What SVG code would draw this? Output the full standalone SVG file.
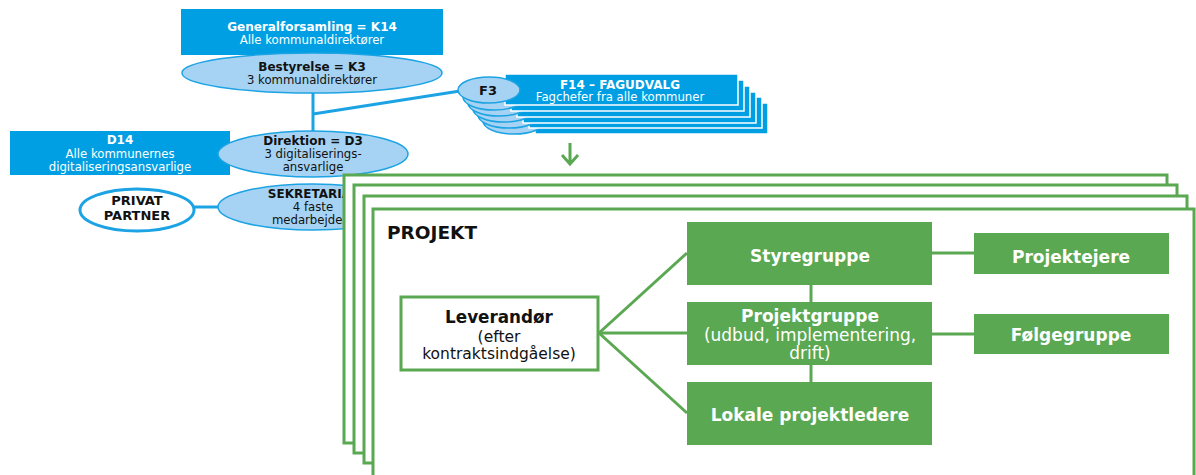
<svg xmlns="http://www.w3.org/2000/svg" width="1196" height="475" viewBox="0 0 1196 475">
<style>
text{font-family:"DejaVu Sans",Verdana,sans-serif;text-anchor:middle}
.bbox{fill:#009FE3}
.ell{fill:#A6D3F3;stroke:#1CA3E3;stroke-width:1.5}
.wb{fill:#fff;font-weight:bold;font-size:12px}
.w{fill:#fff;font-size:11.7px}
.db{fill:#111;font-weight:bold;font-size:12px}
.d{fill:#111;font-size:11.7px}
.bl{stroke:#1CA3E3;stroke-width:3;fill:none}
.frame{fill:#fff;stroke:#5BA852;stroke-width:3}
.gbox{fill:#5BA852}
.gt{fill:#fff;font-weight:bold;font-size:17px}
.gn{fill:#fff;font-size:17px}
.gl{stroke:#5BA852;stroke-width:3;fill:none}
.fb{fill:#009FE3;stroke:#fff;stroke-width:1.5}
</style>
<g id="connectors-blue">
<line class="bl" x1="313" y1="92" x2="313" y2="132"/>
<line class="bl" x1="313" y1="114" x2="460" y2="91"/>
<line class="bl" x1="193" y1="207" x2="219" y2="207"/>
</g>
<g id="generalforsamling">
<rect class="bbox" x="181" y="9" width="262" height="46"/>
<text class="wb" x="312" y="31">Generalforsamling = K14</text>
<text class="w" x="312" y="44">Alle kommunaldirektører</text>
</g>
<g id="bestyrelse">
<ellipse class="ell" cx="312" cy="73" rx="130" ry="20"/>
<text class="db" x="312" y="71">Bestyrelse = K3</text>
<text class="d" x="312" y="84">3 kommunaldirektører</text>
</g>
<g id="d14">
<rect class="bbox" x="10" y="131" width="220" height="44"/>
<text class="wb" x="120" y="144">D14</text>
<text class="w" x="120" y="158">Alle kommunernes</text>
<text class="w" x="120" y="171">digitaliseringsansvarlige</text>
</g>
<g id="direktion">
<ellipse class="ell" cx="313" cy="154" rx="95" ry="23"/>
<text class="db" x="313" y="145">Direktion = D3</text>
<text class="d" x="313" y="158">3 digitaliserings-</text>
<text class="d" x="313" y="171">ansvarlige</text>
</g>
<g id="sekretariat">
<ellipse class="ell" cx="313" cy="207" rx="95" ry="23"/>
<text class="db" x="313" y="198">SEKRETARIAT</text>
<text class="d" x="313" y="211">4 faste</text>
<text class="d" x="313" y="224">medarbejdere</text>
</g>
<g id="privat-partner">
<ellipse cx="137" cy="210" rx="57" ry="21" fill="#fff" stroke="#1CA3E3" stroke-width="3"/>
<text class="db" x="137" y="205" style="font-size:13px">PRIVAT</text>
<text class="db" x="137" y="220" style="font-size:13px">PARTNER</text>
</g>
<g id="f14">
<rect class="fb" x="535" y="103" width="233" height="31"/>
<ellipse class="ell" cx="514" cy="121" rx="31" ry="13"/>
<rect class="fb" x="529" y="97" width="233" height="31"/>
<ellipse class="ell" cx="509" cy="115" rx="31" ry="13"/>
<rect class="fb" x="523" y="92" width="233" height="31"/>
<ellipse class="ell" cx="504" cy="109" rx="31" ry="13"/>
<rect class="fb" x="517" y="86" width="233" height="31"/>
<ellipse class="ell" cx="499" cy="103" rx="31" ry="13"/>
<rect class="fb" x="511" y="80" width="233" height="31"/>
<ellipse class="ell" cx="494" cy="97" rx="31" ry="13"/>
<rect class="fb" x="505" y="74" width="233" height="31"/>
<text class="wb" x="620" y="89">F14 – FAGUDVALG</text>
<text class="w" x="620" y="101">Fagchefer fra alle kommuner</text>
</g>
<g id="f3">
<ellipse class="ell" cx="489" cy="90" rx="31" ry="13"/>
<text class="db" x="488" y="95" style="font-size:13px">F3</text>
</g>
<g id="arrow">
<path class="gl" d="M570 143 V163 M562 155 L570 164 L578 155"/>
</g>
<g id="projekt-frames">
<rect class="frame" x="344" y="175" width="823" height="268"/>
<rect class="frame" x="354" y="185" width="823" height="268"/>
<rect class="frame" x="364" y="196" width="823" height="267"/>
<rect class="frame" x="373" y="209" width="821" height="280"/>
<text x="387" y="239" style="text-anchor:start;font-weight:bold;font-size:18.5px;fill:#111">PROJEKT</text>
</g>
<g id="connectors-green">
<line class="gl" x1="599" y1="333" x2="687" y2="253"/>
<line class="gl" x1="599" y1="333" x2="687" y2="333"/>
<line class="gl" x1="599" y1="333" x2="687" y2="413"/>
<line class="gl" x1="811" y1="285" x2="811" y2="382"/>
<line class="gl" x1="932" y1="253" x2="974" y2="253"/>
<line class="gl" x1="932" y1="334" x2="974" y2="334"/>
</g>
<g id="leverandor">
<rect x="401" y="297" width="197" height="73" fill="#fff" stroke="#5BA852" stroke-width="3"/>
<text x="499" y="323" style="font-weight:bold;font-size:16.8px;fill:#111">Leverandør</text>
<text x="499" y="342" style="font-size:15.5px;fill:#111">(efter</text>
<text x="499" y="359" style="font-size:15.5px;fill:#111">kontraktsindgåelse)</text>
</g>
<g id="styregruppe">
<rect class="gbox" x="687" y="222" width="245" height="63"/>
<text class="gt" x="810" y="262">Styregruppe</text>
</g>
<g id="projektgruppe">
<rect class="gbox" x="687" y="302" width="245" height="63"/>
<text class="gt" x="810" y="322">Projektgruppe</text>
<text class="gn" x="810" y="341">(udbud, implementering,</text>
<text class="gn" x="810" y="359">drift)</text>
</g>
<g id="lokale">
<rect class="gbox" x="687" y="382" width="245" height="63"/>
<text class="gt" x="810" y="421">Lokale projektledere</text>
</g>
<g id="projektejere">
<rect class="gbox" x="974" y="233" width="195" height="41"/>
<text class="gt" x="1071" y="263">Projektejere</text>
</g>
<g id="folgegruppe">
<rect class="gbox" x="974" y="314" width="195" height="40"/>
<text class="gt" x="1071" y="341">Følgegruppe</text>
</g>
</svg>
